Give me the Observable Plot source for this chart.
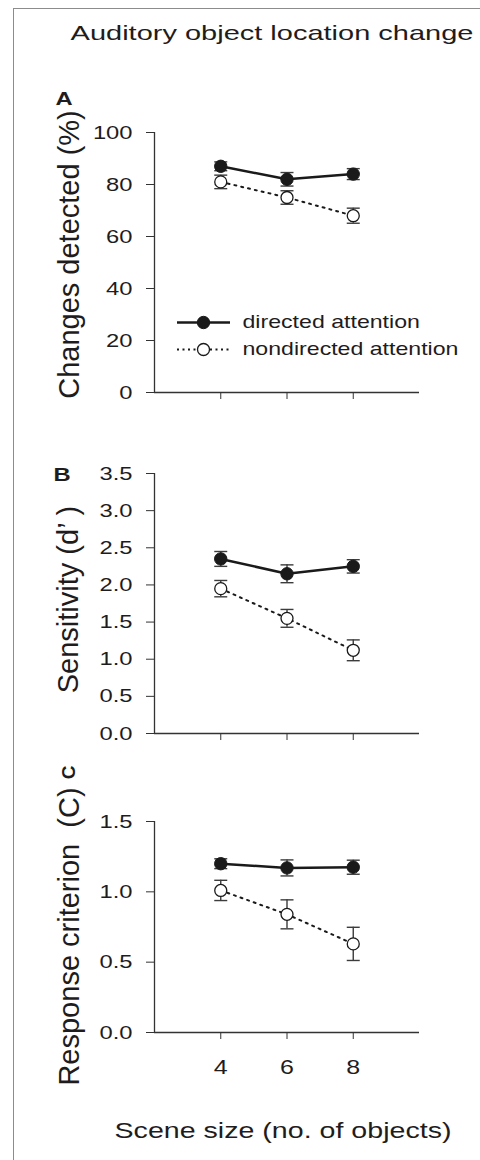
<!DOCTYPE html>
<html><head><meta charset="utf-8">
<script src="https://cdn.jsdelivr.net/npm/d3@7"></script>
<script src="https://cdn.jsdelivr.net/npm/@observablehq/plot@0.6"></script>
<style>
body{margin:0;background:#fff;font-family:"Liberation Sans",Arial,Helvetica,sans-serif;}
#page{position:relative;width:480px;height:1160px;overflow:hidden;background:#fff;}
#frame{position:absolute;left:13px;top:8px;width:480px;height:1160px;border-left:1px solid #8c8c8c;border-top:1px solid #8c8c8c;}
.htext{position:absolute;white-space:nowrap;color:#1f1c1d;line-height:1;}
.panel{position:absolute;left:0;}
</style></head><body>
<div id="page"><div id="frame"></div>
<div id="title" class="htext" style="left:272px;top:22px;font-size:21px;transform:translateX(-50%) scaleX(1.38);">Auditory object location change</div>
<div id="pA" class="panel" style="top:80px"></div>
<div id="pB" class="panel" style="top:420px"></div>
<div id="pC" class="panel" style="top:750px"></div>
<div id="xlabel" class="htext" style="left:283px;top:1121px;font-size:21.5px;transform:translateX(-50%) scaleX(1.33);">Scene size (no. of objects)</div>
</div>
<script>
// ---- data ----
const sceneSize = [4, 6, 8];
const seriesNames = ["directed attention", "nondirected attention"];

const detectedDirected = [87, 82, 84];
const detectedDirectedSE = [1.7, 2.6, 2.1];
const detectedNondirected = [81, 75, 68];
const detectedNondirectedSE = [2.6, 2.6, 2.9];

const dprimeDirected = [2.35, 2.15, 2.25];
const dprimeDirectedSE = [0.10, 0.12, 0.09];
const dprimeNondirected = [1.95, 1.55, 1.12];
const dprimeNondirectedSE = [0.11, 0.12, 0.14];

const criterionDirected = [1.20, 1.17, 1.175];
const criterionDirectedSE = [0.035, 0.057, 0.05];
const criterionNondirected = [1.01, 0.84, 0.63];
const criterionNondirectedSE = [0.072, 0.103, 0.118];

const ticksA = [0, 20, 40, 60, 80, 100];
const ticksB = [0, 0.5, 1, 1.5, 2, 2.5, 3, 3.5];
const ticksC = [0, 0.5, 1, 1.5];
const xTicks = [4, 6, 8];
const xDomain = [2, 10];

const labelA = "Changes detected (%)";
const labelB = "Sensitivity (d\u2019 )";
const labelC = "Response criterion  (C)";

// ---- helpers ----
function rows(dir, dirSE, non, nonSE) {
  const out = [];
  sceneSize.forEach((x, i) => out.push({x, y: dir[i], se: dirSE[i], series: seriesNames[0]}));
  sceneSize.forEach((x, i) => out.push({x, y: non[i], se: nonSE[i], series: seriesNames[1]}));
  return out;
}
const cap = {draw(ctx) { ctx.moveTo(-6.5, 0); ctx.lineTo(6.5, 0); }};
const legLine = {draw(ctx) { ctx.moveTo(-26.5, 0); ctx.lineTo(26.5, 0); }};
const INK = "#1a1a1a", AXIS = "#333", ERR = "#3c3c3c", TXT = "#1f1c1d";
const FONT = '"Liberation Sans", Arial, Helvetica, sans-serif';

function panel(o) {
  const data = rows(...o.series);
  const dir = data.filter(d => d.series === seriesNames[0]);
  const non = data.filter(d => d.series === seriesNames[1]);
  const marks = [
    Plot.ruleX([xDomain[0]], {stroke: AXIS, strokeWidth: 1.3}),
    Plot.ruleY([o.yDomain[0]], {stroke: AXIS, strokeWidth: 1.3}),
    Plot.axisY(o.yTicks, {tickSize: 8, tickPadding: 14, tickFormat: o.fmt, label: null, fontSize: 19, stroke: AXIS, color: TXT}),
    Plot.axisX(xTicks, {tickSize: 7, tickPadding: 20, tickFormat: o.showX ? (d => String(d)) : (() => ""), label: null, fontSize: 20, stroke: AXIS, color: TXT}),
    Plot.ruleX(data, {x: "x", y1: d => d.y - d.se, y2: d => d.y + d.se, stroke: ERR, strokeWidth: 1.4}),
    Plot.dot(data, {x: "x", y: d => d.y + d.se, symbol: cap, fill: "none", stroke: ERR, strokeWidth: 1.4}),
    Plot.dot(data, {x: "x", y: d => d.y - d.se, symbol: cap, fill: "none", stroke: ERR, strokeWidth: 1.4}),
    Plot.line(dir, {x: "x", y: "y", stroke: INK, strokeWidth: 2.5}),
    Plot.line(non, {x: "x", y: "y", stroke: INK, strokeWidth: 2, strokeDasharray: "2,5"}),
    Plot.dot(dir, {x: "x", y: "y", r: 6.2, fill: INK, stroke: INK, strokeWidth: 1}),
    Plot.dot(non, {x: "x", y: "y", r: 6, fill: "white", stroke: INK, strokeWidth: 1.3}),
    Plot.text([o.label], {frameAnchor: "left", rotate: -90, dx: o.labelDx, dy: o.labelDy, textAnchor: "middle", lineAnchor: "middle", fontSize: 29, fill: TXT}),
    Plot.text([o.letter], {frameAnchor: "top-left", dx: o.letterDx, dy: o.letterDy, rotate: o.letterRotate || 0,
      textAnchor: o.letterRotate ? "middle" : "start", lineAnchor: o.letterRotate ? "middle" : "top",
      fontWeight: "bold", fontSize: 19, fill: TXT})
  ];
  if (o.legend) {
    seriesNames.forEach((name, i) => {
      const dy = 190 + 27 * i;
      marks.push(Plot.dot([name], {frameAnchor: "top-left", dx: 49, dy, symbol: legLine, fill: "none", stroke: INK,
        strokeWidth: i === 0 ? 2.5 : 2, strokeDasharray: i === 0 ? null : "2,3.5"}));
      marks.push(Plot.dot([name], {frameAnchor: "top-left", dx: 49, dy, r: i === 0 ? 6.2 : 6,
        fill: i === 0 ? INK : "white", stroke: INK, strokeWidth: i === 0 ? 1 : 1.3}));
      marks.push(Plot.text([name], {frameAnchor: "top-left", dx: 88, dy, textAnchor: "start", lineAnchor: "middle", fontSize: 18.5, fill: TXT}));
    });
  }
  const svg = Plot.plot({
    width: 480, height: o.height,
    marginLeft: 154, marginRight: 61, marginTop: o.marginTop, marginBottom: o.marginBottom,
    x: {domain: xDomain}, y: {domain: o.yDomain},
    style: {fontFamily: FONT, color: TXT, background: "transparent", overflow: "visible"},
    marks
  });
  // widen horizontal text (scale about each label's own anchor) to match the reference's letterforms
  svg.querySelectorAll("text").forEach(t => {
    const tr = t.getAttribute("transform");
    if (!tr || /rotate/.test(tr)) return;
    t.setAttribute("transform", `${tr} scale(1.25,1)`);
  });
  return svg;
}

document.getElementById("pA").appendChild(panel({
  series: [detectedDirected, detectedDirectedSE, detectedNondirected, detectedNondirectedSE],
  yDomain: [0, 100], yTicks: ticksA, fmt: d3.format("d"),
  height: 340, marginTop: 52, marginBottom: 28,
  label: labelA, labelDx: -85, labelDy: -8,
  letter: "A", letterDx: -99, letterDy: -41,
  legend: true, showX: false
}));
document.getElementById("pB").appendChild(panel({
  series: [dprimeDirected, dprimeDirectedSE, dprimeNondirected, dprimeNondirectedSE],
  yDomain: [0, 3.5], yTicks: ticksB, fmt: d3.format(".1f"),
  height: 330, marginTop: 53, marginBottom: 17,
  label: labelB, labelDx: -86, labelDy: -4,
  letter: "B", letterDx: -101, letterDy: -6,
  legend: false, showX: false
}));
document.getElementById("pC").appendChild(panel({
  series: [criterionDirected, criterionDirectedSE, criterionNondirected, criterionNondirectedSE],
  yDomain: [0, 1.5], yTicks: ticksC, fmt: d3.format(".1f"),
  height: 340, marginTop: 71, marginBottom: 58,
  label: labelC, labelDx: -85, labelDy: 9.5,
  letter: "C", letterDx: -86, letterDy: -49, letterRotate: -90,
  legend: false, showX: true
}));
</script>
</body></html>
